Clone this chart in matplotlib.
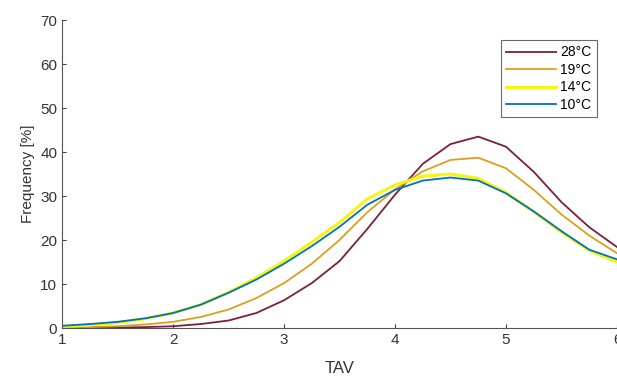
import matplotlib
matplotlib.use('Agg')
import matplotlib.pyplot as plt

plt.rcParams['font.family'] = ['Liberation Sans', 'DejaVu Sans']

tav = [1.0, 1.25, 1.5, 1.75, 2.0, 2.25, 2.5, 2.75, 3.0, 3.25, 3.5,
       3.75, 4.0, 4.25, 4.5, 4.75, 5.0, 5.25, 5.5, 5.75, 6.0]

freq_28 = [0.0, 0.0, 0.1, 0.2, 0.4, 0.9, 1.7, 3.4, 6.3, 10.2, 15.2,
           22.5, 30.3, 37.3, 41.8, 43.5, 41.2, 35.5, 28.6, 22.9, 18.4]
freq_19 = [0.1, 0.2, 0.4, 0.8, 1.4, 2.5, 4.2, 6.8, 10.2, 14.6, 20.0,
           26.3, 31.5, 35.6, 38.2, 38.7, 36.3, 31.4, 25.8, 21.0, 17.0]
freq_14 = [0.3, 0.7, 1.2, 2.1, 3.4, 5.3, 8.1, 11.4, 15.2, 19.5, 24.0,
           29.3, 32.5, 34.5, 35.0, 34.0, 30.8, 26.4, 21.8, 17.6, 15.0]
freq_10 = [0.5, 0.9, 1.4, 2.2, 3.4, 5.3, 8.0, 11.0, 14.6, 18.6, 23.0,
           28.0, 31.4, 33.5, 34.2, 33.5, 30.6, 26.5, 22.0, 17.8, 15.6]

labels = ['28°C', '19°C', '14°C', '10°C']
colors = ['#7A1F3D', '#D9A020', '#F5F514', '#0072BD']

fig = plt.figure(figsize=(6.17, 3.81), dpi=100)
ax = fig.add_axes([62 / 617, 53 / 381, 555 / 617, 308 / 381])

ax.plot(tav, freq_28, color=colors[0], lw=1.3, label=labels[0])
ax.plot(tav, freq_19, color=colors[1], lw=1.3, label=labels[1])
ax.plot(tav, freq_14, color=colors[2], lw=2.2, label=labels[2])
ax.plot(tav, freq_10, color=colors[3], lw=1.3, label=labels[3])

ax.set_xlim(1, 6)
ax.set_ylim(0, 70)
ax.set_xticks([1, 2, 3, 4, 5, 6])
ax.set_yticks(range(0, 71, 10))
ax.tick_params(direction='in', length=3, labelsize=11, colors='#404040',
               labelcolor='#333333')
ax.spines['top'].set_visible(False)
ax.spines['right'].set_visible(False)
ax.spines['left'].set_color('#555555')
ax.spines['bottom'].set_color('#555555')

ax.set_xlabel('TAV', fontsize=12, color='#333333', labelpad=10)
ax.set_ylabel('Frequency [%]', fontsize=11, color='#333333', labelpad=4)

leg = ax.legend(loc='upper right', bbox_to_anchor=(542 / 555, 1 - 13 / 308),
                fontsize=10, frameon=True, fancybox=False, handlelength=3.6,
                borderpad=0.4, labelspacing=0.25, handletextpad=0.3)
leg.get_frame().set_edgecolor('#444444')
leg.get_frame().set_linewidth(0.8)

fig.savefig('out.png', dpi=100)
